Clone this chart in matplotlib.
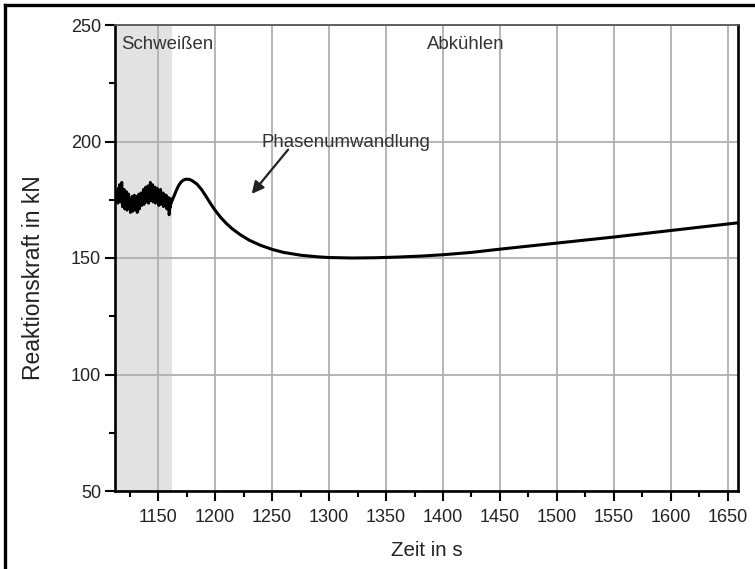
import matplotlib
matplotlib.use("Agg")
import matplotlib.pyplot as plt
from matplotlib.lines import Line2D
from matplotlib.ticker import MultipleLocator

plt.rcParams['font.family'] = ['Liberation Sans', 'DejaVu Sans']

# Noisy welding phase
weld_t = [1113.0, 1113.5, 1114.0, 1114.5, 1115.0, 1115.5, 1116.0, 1116.5, 1117.0, 1117.5,
          1118.0, 1118.5, 1119.0, 1119.5, 1120.0, 1120.5, 1121.0, 1121.5, 1122.0, 1122.5,
          1123.0, 1123.5, 1124.0, 1124.5, 1125.0, 1125.5, 1126.0, 1126.5, 1127.0, 1127.5,
          1128.0, 1128.5, 1129.0, 1129.5, 1130.0, 1130.5, 1131.0, 1131.5, 1132.0, 1132.5,
          1133.0, 1133.5, 1134.0, 1134.5, 1135.0, 1135.5, 1136.0, 1136.5, 1137.0, 1137.5,
          1138.0, 1138.5, 1139.0, 1139.5, 1140.0, 1140.5, 1141.0, 1141.5, 1142.0, 1142.5,
          1143.0, 1143.5, 1144.0, 1144.5, 1145.0, 1145.5, 1146.0, 1146.5, 1147.0, 1147.5,
          1148.0, 1148.5, 1149.0, 1149.5, 1150.0, 1150.5, 1151.0, 1151.5, 1152.0, 1152.5,
          1153.0, 1153.5, 1154.0, 1154.5, 1155.0, 1155.5, 1156.0, 1156.5, 1157.0, 1157.5,
          1158.0, 1158.5, 1159.0, 1159.5, 1160.0, 1160.5, 1161.0, 1161.5, 1162.0]
weld_f = [177, 176, 178.5, 173.5, 180, 175, 181.5, 174, 177, 176,
          182.5, 172, 178, 173.5, 179.5, 171, 175.5, 174, 178.5, 170.5,
          176, 171.5, 177.5, 172.5, 175, 169.5, 174.5, 172, 176.5, 170,
          173.5, 172.5, 177, 170.5, 175, 171, 176.5, 169.5, 174, 173,
          177.5, 171, 175.5, 174, 178, 172.5, 176.5, 175, 179.5, 173,
          177.5, 176, 180.5, 174, 178.5, 176.5, 181, 173.5, 179, 177,
          182.5, 174.5, 180, 177, 181.5, 174, 178.5, 176, 180.5, 173.5,
          177, 175.5, 180, 174.5, 178.5, 172.5, 177.5, 175, 179.5, 173,
          176.5, 175, 178, 172, 177.5, 173.5, 175.5, 172.5, 177, 171,
          175.5, 173.5, 176, 168.5, 174, 171.5, 175.5, 173.5, 175]

# Cooling phase (smooth curve)
cool_t = [1162, 1164, 1166, 1168, 1170, 1172, 1174, 1176, 1178, 1180, 1184, 1188,
          1192, 1196, 1200, 1205, 1210, 1215, 1222, 1230, 1240, 1250, 1260, 1275,
          1290, 1300, 1320, 1340, 1360, 1380, 1400, 1425, 1450, 1475, 1500, 1525,
          1550, 1575, 1600, 1625, 1659]
cool_f = [174.5, 176.8, 179.2, 181.2, 182.6, 183.4, 183.8, 183.8, 183.6, 183.1,
          181.7, 179.4, 176.4, 173.3, 170.4, 167.3, 164.7, 162.5, 160.0, 157.6,
          155.4, 153.7, 152.4, 151.2, 150.5, 150.2, 150.0, 150.1, 150.4, 150.8,
          151.4, 152.4, 153.8, 155.1, 156.4, 157.7, 159.0, 160.4, 161.8, 163.2,
          165.1]

weld_span = (1112, 1162)
xticks = [1150, 1200, 1250, 1300, 1350, 1400, 1450, 1500, 1550, 1600, 1650]
yticks = [50, 100, 150, 200, 250]

fig = plt.figure(figsize=(7.55, 5.69), dpi=100)
ax = fig.add_axes([115/755, 1-491/569, (738-115)/755, (491-25)/569])

ax.axvspan(weld_span[0], weld_span[1], color='#e2e2e2', lw=0, zorder=0)
ax.set_xlim(1112, 1659)
ax.set_ylim(50, 250)
ax.set_xticks(xticks)
ax.set_yticks(yticks)
ax.xaxis.set_minor_locator(MultipleLocator(25))
ax.yaxis.set_minor_locator(MultipleLocator(25))
ax.grid(True, which='major', color='#b0b0b0', lw=1.3, zorder=1)

ax.plot(weld_t, weld_f, color='black', lw=2.0, zorder=3)
ax.plot(cool_t, cool_f, color='black', lw=2.2, zorder=3, solid_capstyle='round')

ax.tick_params(which='major', direction='out', length=7, width=1.5, labelsize=13,
               colors='black', labelcolor='#222222')
ax.tick_params(axis='x', which='major', pad=6)
ax.tick_params(axis='y', which='major', pad=3)
ax.tick_params(which='minor', direction='out', length=4.5, width=1.5)
for s in ['left', 'bottom', 'right']:
    ax.spines[s].set_linewidth(1.9)
    ax.spines[s].set_color('black')
ax.spines['top'].set_linewidth(1.3)
ax.spines['top'].set_color('#555555')

ax.set_xlabel('Zeit in s', fontsize=14.8, color='#222222', va='center')
ax.xaxis.set_label_coords(0.5, (491-550)/466)
ax.set_ylabel('Reaktionskraft in kN', fontsize=16.5, color='#222222', va='center')
ax.yaxis.set_label_coords((34-115)/623, (491-278)/466)

ax.text(1117, 241.5, 'Schweißen', fontsize=13.4, color='#333333', va='center', ha='left')
ax.text(1386, 241.5, 'Abkühlen', fontsize=13.4, color='#333333', va='center', ha='left')
ax.text(1241, 199.5, 'Phasenumwandlung', fontsize=13.4, color='#333333', va='center', ha='left')
ax.annotate('', xy=(1232, 177.5), xytext=(1264, 196.5),
            arrowprops=dict(arrowstyle='-|>', color='#222222', lw=1.6,
                            mutation_scale=18, shrinkA=0, shrinkB=0))

# figure frame (left and top edges visible)
fig.add_artist(Line2D([5/755, 5/755], [0, 1-5/569], transform=fig.transFigure,
                      color='black', lw=2.4))
fig.add_artist(Line2D([5/755, 1], [1-5/569, 1-5/569], transform=fig.transFigure,
                      color='black', lw=2.4))

fig.savefig('out.png', dpi=100)
